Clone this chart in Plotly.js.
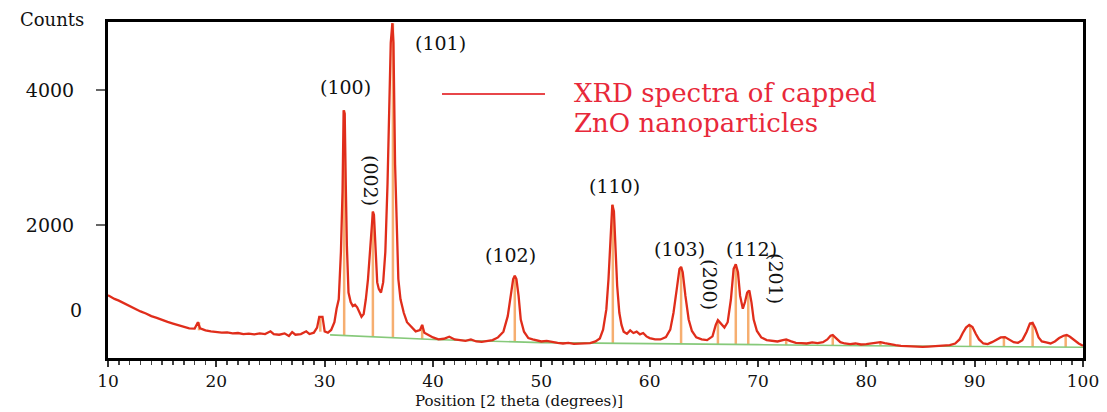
<!DOCTYPE html>
<html>
<head>
<meta charset="utf-8">
<script src="https://cdn.plot.ly/plotly-3.0.1.min.js"></script>
<style>
html,body{margin:0;padding:0;background:#fff;}
#chart{width:1107px;height:412px;}
</style>
</head>
<body>
<div id="chart"></div>
<script>
// XRD spectrum (2 theta, counts)
const twoTheta = [
10.0,10.3,10.6,11.0,11.5,12.0,12.5,13.0,13.5,14.0,14.5,15.0,15.5,16.0,16.5,17.0,17.5,18.0,18.3,18.5,19.0,19.5,
20.0,20.5,21.0,21.5,22.0,22.5,23.0,23.5,24.0,24.5,25.0,25.3,25.8,26.3,26.7,27.0,27.3,27.8,28.3,28.6,29.0,29.3,29.5,29.8,
30.0,30.3,30.6,30.9,31.1,31.3,31.5,31.65,31.75,31.85,31.95,32.05,32.2,32.4,32.6,32.8,33.0,33.2,33.4,33.6,33.8,
34.0,34.2,34.35,34.45,34.55,34.7,34.85,35.0,35.2,35.4,35.6,35.8,35.95,36.1,36.25,36.35,36.5,36.65,36.8,37.0,37.3,37.6,
38.0,38.4,38.8,39.0,39.2,39.6,40.0,40.5,41.0,41.5,42.0,42.5,43.0,43.5,44.0,44.5,45.0,45.5,46.0,46.5,46.9,47.2,47.4,47.55,
47.7,47.9,48.1,48.4,48.8,49.2,49.6,50.0,50.5,51.0,51.5,52.0,52.5,53.0,53.5,54.0,54.5,55.0,55.4,55.7,56.0,56.2,56.4,56.55,
56.7,56.85,57.0,57.2,57.4,57.6,57.9,58.2,58.5,58.8,59.1,59.4,59.7,60.0,60.5,61.0,61.5,61.9,62.2,62.5,62.75,62.9,63.05,
63.3,63.6,63.9,64.3,64.8,65.3,65.8,66.1,66.3,66.6,66.9,67.2,67.5,67.75,67.95,68.15,68.35,68.6,68.8,69.0,69.2,69.4,69.6,
69.9,70.3,70.8,71.3,71.8,72.3,72.6,73.0,73.5,74.0,74.5,75.0,75.5,76.0,76.4,76.7,76.9,77.2,77.6,78.0,78.5,79.0,79.5,
80.0,80.5,81.0,81.3,81.7,82.2,82.7,83.2,83.7,84.2,84.7,85.2,85.7,86.2,86.7,87.2,87.7,88.2,88.6,88.9,89.2,89.5,89.8,
90.1,90.4,90.8,91.2,91.6,92.0,92.4,92.8,93.2,93.6,94.0,94.4,94.8,95.1,95.35,95.6,95.9,96.2,96.6,97.0,97.4,97.8,98.2,
98.5,98.8,99.2,99.6,100.0
];
const counts = [
960,930,905,880,840,795,760,720,690,650,625,590,565,540,515,495,470,465,560,470,440,425,
415,405,410,395,400,385,390,380,395,385,425,385,375,395,355,415,375,385,425,385,405,480,640,640,
425,405,445,560,760,900,1600,2500,3700,3650,2600,1700,1000,860,800,820,780,700,640,680,900,
1200,1600,2000,2200,2150,1600,1150,1050,1000,1150,1600,2600,3800,4700,4990,4700,2900,1800,1200,900,700,560,
500,425,445,520,405,365,335,305,315,345,305,295,285,305,275,270,280,295,335,420,650,950,1200,1250,
1200,950,600,420,325,305,295,275,285,265,255,245,255,240,245,255,250,275,320,450,750,1200,1800,2300,
2200,1700,1100,700,520,420,390,440,400,420,380,400,350,325,305,305,340,450,700,1050,1350,1380,1300,
950,600,430,335,305,295,350,520,590,530,480,560,900,1350,1420,1300,950,760,860,1000,1030,850,600,
430,335,295,285,275,295,305,280,255,250,245,260,250,265,305,360,370,325,265,245,235,245,230,
235,245,260,265,250,230,220,210,205,200,205,195,200,205,200,210,220,245,305,400,480,520,490,
390,305,245,235,265,305,335,340,305,265,255,295,420,540,550,470,335,275,260,245,275,325,360,
370,345,295,245,210
];

// green background line
const baseTheta = [30.5, 35, 40, 50, 60, 70, 80, 90, 100];
const baseCounts = [372, 340, 305, 258, 238, 228, 212, 200, 190];

// orange reference sticks
const stickTheta = [18.4, 29.6, 31.8, 34.45, 36.3, 39.0, 47.55, 56.6, 62.9, 66.3, 67.95, 69.1, 72.6, 76.9, 81.3, 89.6, 92.7, 95.35, 98.4];
const stickTop   = [560, 640, 3700, 2200, 4990, 520, 1250, 2300, 1380, 590, 1420, 1030, 300, 370, 260, 520, 340, 550, 370];
const stickBase  = [440, 420, 360, 345, 335, 310, 270, 245, 236, 230, 229, 228, 224, 216, 210, 200, 198, 195, 192];

// peak labels (Miller indices)
const peakLabels = ['(100)', '(101)', '(002)', '(102)', '(110)', '(103)', '(112)', '(200)', '(201)'];

// tick values
const xTicks = [10, 20, 30, 40, 50, 60, 70, 80, 90, 100];
const yTicks = [2000, 4000];
const yTickText = ['2000', '4000'];

// ---- layout helpers (pixel -> paper) ----
const L = 108, R = 24, T = 22, B = 54, W = 1107, H = 412;
const pw = W - L - R, ph = H - T - B;
const px = x => (x - L) / pw;
const py = y => (H - B - y) / ph;

const sx = [], sy = [];
stickTheta.forEach((t, i) => { sx.push(t, t, null); sy.push(stickBase[i], stickTop[i], null); });

const traces = [
  {x: sx, y: sy, mode: 'lines', line: {color: '#f6ae70', width: 2.5}, hoverinfo: 'skip', showlegend: false},
  {x: baseTheta, y: baseCounts, mode: 'lines', line: {color: '#86c97a', width: 1.6}, showlegend: false},
  {x: twoTheta, y: counts, mode: 'lines', line: {color: '#e02d1b', width: 2.3}, name: 'XRD spectra of capped ZnO nanoparticles', showlegend: false}
];

const serif = 'DejaVu Serif, Liberation Serif, serif';
const labelPos = [[345, 87, 0], [440, 43, 0], [371, 180, 90], [510, 255, 0], [614, 186, 0], [679, 249, 0], [751, 249, 0], [710, 284, 90], [776, 278, 90]];
const annotations = peakLabels.map((t, i) => ({
  text: t, xref: 'paper', yref: 'paper', x: px(labelPos[i][0]), y: py(labelPos[i][1]),
  xanchor: 'center', yanchor: 'middle', showarrow: false, textangle: labelPos[i][2],
  font: {family: serif, size: 19, color: '#111'}
}));
annotations.push(
  {text: 'Counts', xref: 'paper', yref: 'paper', x: px(52), y: py(19), xanchor: 'center', yanchor: 'middle', showarrow: false, font: {family: serif, size: 18, color: '#111'}},
  {text: '0', xref: 'paper', yref: 'paper', x: px(76), y: py(310), xanchor: 'center', yanchor: 'middle', showarrow: false, font: {family: serif, size: 19, color: '#111'}},
  {text: 'Position [2 theta (degrees)]', xref: 'paper', yref: 'paper', x: px(519), y: py(412), xanchor: 'center', yanchor: 'bottom', showarrow: false, font: {family: serif, size: 15, color: '#111'}},
  {text: 'XRD spectra of capped', xref: 'paper', yref: 'paper', x: px(572), y: py(93), xanchor: 'left', yanchor: 'middle', showarrow: false, font: {family: serif, size: 26, color: '#e8283a'}},
  {text: 'ZnO nanoparticles', xref: 'paper', yref: 'paper', x: px(572), y: py(123), xanchor: 'left', yanchor: 'middle', showarrow: false, font: {family: serif, size: 26, color: '#e8283a'}}
);

const layout = {
  width: W, height: H,
  margin: {l: L, r: R, t: T, b: B, pad: 0},
  paper_bgcolor: '#fff', plot_bgcolor: '#fff',
  showlegend: false,
  xaxis: {
    range: [10, 100], tickvals: xTicks, ticks: 'outside', ticklen: 6, tickwidth: 2, tickcolor: '#333',
    minor: {dtick: 1, ticks: 'outside', ticklen: 4, tickwidth: 1.5, tickcolor: '#444'},
    showline: true, linecolor: '#000', linewidth: 3, mirror: true,
    showgrid: false, zeroline: false,
    tickfont: {family: serif, size: 17, color: '#111'}
  },
  yaxis: {
    range: [30, 5008], tickvals: yTicks, ticktext: yTickText, ticks: 'outside', ticklen: 9, tickwidth: 1.5, tickcolor: '#666',
    ticklabelstandoff: 18,
    showline: true, linecolor: '#000', linewidth: 3, mirror: true,
    showgrid: false, zeroline: false,
    tickfont: {family: serif, size: 19, color: '#111'}
  },
  shapes: [
    {type: 'line', xref: 'paper', yref: 'paper', x0: px(442), x1: px(545), y0: py(94), y1: py(94), line: {color: '#e8464a', width: 2}}
  ],
  annotations: annotations
};

Plotly.newPlot('chart', traces, layout, {displayModeBar: false, staticPlot: true});
</script>
</body>
</html>
